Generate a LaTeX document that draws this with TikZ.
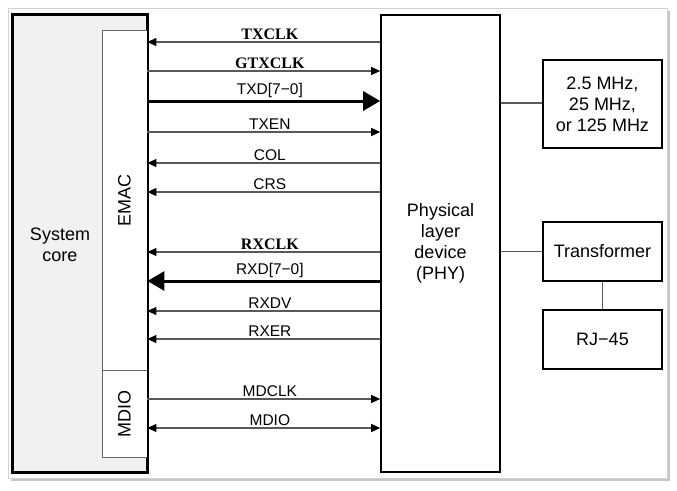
\documentclass[tikz,border=0pt]{standalone}
\usepackage{fontspec}
\setmainfont{Liberation Sans}
\newfontfamily\sigserif{Liberation Serif}
\usetikzlibrary{arrows.meta}

\tikzset{
  box/.style={draw, line width=1.6pt, align=center, inner sep=0pt,
    font=\fontsize{18}{21}\selectfont},
  sub/.style={draw=gray!80!black, line width=0.8pt, fill=white, inner sep=0pt,
    minimum width=45, font=\fontsize{18}{21}\selectfont},
  sig/.style={draw=gray!70!black, line width=1.1pt,
    >={Triangle[length=9pt,width=8pt,color=black]}},
  bus/.style={draw=black, line width=3pt,
    >={Triangle[length=17pt,width=19pt]}},
  lbl/.style={above, pos=0.526, inner sep=1.8pt, text=black,
    font=\fontsize{15.5}{18}\selectfont},
  lblserif/.style={lbl, font=\fontsize{16}{18}\sigserif\bfseries}
}

\begin{document}
\begin{tikzpicture}[x=1pt,y=-1pt]
  \useasboundingbox (0,0) rectangle (677,490);
  % frame with shadow
  \fill[gray!45] (11,11) rectangle (670,481);
  \fill[white] (8,8) rectangle (667,478);
  \draw[gray!35, line width=0.8pt] (8,8) rectangle (667,478);

  % blocks
  \node[box, fill=gray!11, minimum width=134, minimum height=457] (core) at (80,243.5) {};
  \node[font=\fontsize{18}{21}\selectfont, align=center] (coretxt) at (60,245) {System\\core};
  \node[sub, minimum height=340] (emac) at (124.5,200) {\rotatebox{90}{EMAC}};
  \node[sub, minimum height=87] (mdio) at (124.5,413.5) {\rotatebox{90}{MDIO}};
  \draw[line width=1.6pt] (core.north west) rectangle (core.south east);

  \node[box, minimum width=119, minimum height=457] (phy) at (440.5,243.5)
    {Physical\\layer\\device\\(PHY)};
  \node[box, minimum width=119, minimum height=88] (clk) at (602.5,104)
    {2.5 MHz,\\25 MHz,\\or 125 MHz};
  \node[box, minimum width=119, minimum height=59] (xfmr) at (602.5,251.5) {Transformer};
  \node[box, minimum width=119, minimum height=59] (rj) at (602.5,339.5) {RJ−45};

  \draw[sig] (phy.east |- 0,103) -- (clk.west |- 0,103);
  \draw[sig] (phy.east |- 0,251.5) -- (xfmr.west);
  \draw[sig] (xfmr.south) -- (rj.north);

  % signals, EMAC <-> PHY
  \foreach \y/\name in {42/TXCLK, 252/RXCLK}
    \draw[sig,<-] (emac.east |- 0,\y) -- (phy.west |- 0,\y) node[lblserif] {\name};
  \draw[sig,->] (emac.east |- 0,71) -- (phy.west |- 0,71) node[lblserif] {GTXCLK};
  \draw[bus,->] (emac.east |- 0,101) -- (phy.west |- 0,101) node[lbl] {TXD[7−0]};
  \draw[sig,->] (emac.east |- 0,132) -- (phy.west |- 0,132) node[lbl] {TXEN};
  \foreach \y/\name in {163/COL, 192/CRS, 311/RXDV, 339/RXER}
    \draw[sig,<-] (emac.east |- 0,\y) -- (phy.west |- 0,\y) node[lbl] {\name};
  \draw[bus,<-] (emac.east |- 0,281) -- (phy.west |- 0,281) node[lbl] {RXD[7−0]};
  \draw[sig,->] (mdio.east |- 0,399) -- (phy.west |- 0,399) node[lbl] {MDCLK};
  \draw[sig,<->] (mdio.east |- 0,428) -- (phy.west |- 0,428) node[lbl] {MDIO};
\end{tikzpicture}
\end{document}
